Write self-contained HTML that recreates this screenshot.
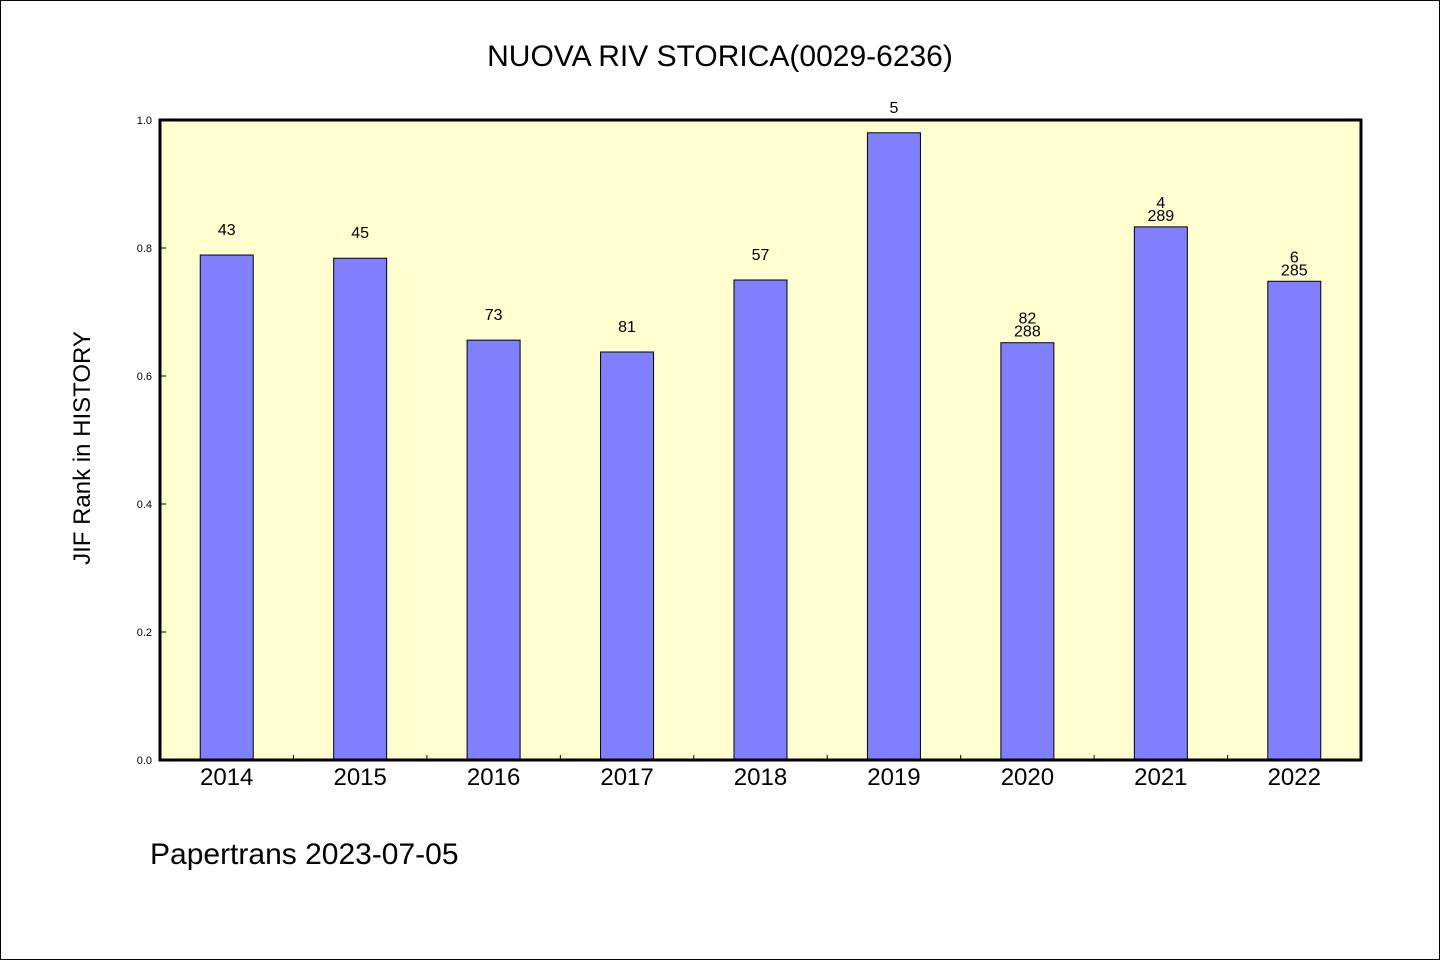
<!DOCTYPE html>
<html><head><meta charset="utf-8"><style>
body{margin:0;background:#fff}
svg text{font-family:"WenQuanYi Zen Hei","Liberation Sans",sans-serif}
</style></head><body>
<svg width="1440" height="960">
<rect x="0.5" y="0.5" width="1439" height="959" fill="#fff" stroke="#000"/>
<text x="720" y="66" font-size="30" text-anchor="middle">NUOVA RIV STORICA(0029-6236)</text>
<rect x="160" y="120" width="1201" height="640" fill="#ffffd0"/>
<g id="bars"></g>
<rect x="160" y="120" width="1201" height="640" fill="none" stroke="#000" stroke-width="3"/>
<text transform="translate(90,448) rotate(-90)" font-size="24" text-anchor="middle">JIF Rank in HISTORY</text>
<text x="150" y="864" font-size="30">Papertrans 2023-07-05</text>
</svg>
<script>
const categories=["2014","2015","2016","2017","2018","2019","2020","2021","2022"];
const values=[0.789,0.784,0.656,0.6375,0.75,0.98,0.652,0.833,0.748];
const rankLabels=["43","45","73","81","57","5","82","4","6"];
const totalLabels=["","","","","","","288","289","285"];
const yTicks=[0,0.2,0.4,0.6,0.8,1.0];
const X0=160,W=1201,Y0=760,H=640;
const band=W/categories.length;
const xs=i=>X0+band*(i+0.5);
const ys=v=>Y0-v*H;
const g=document.getElementById('bars');
const NS="http://www.w3.org/2000/svg";
function mk(t,a){const e=document.createElementNS(NS,t);for(const k in a)e.setAttribute(k,a[k]);g.appendChild(e);return e;}
yTicks.forEach(t=>{
 const l=mk('line',{x1:X0,x2:X0+6,y1:ys(t),y2:ys(t),stroke:'#000'});
 
 
 const tx=mk('text',{x:X0-8,y:ys(t)+4,'font-size':11,'text-anchor':'end'});
 tx.textContent=t.toFixed(1);
 
 
});
categories.forEach((c,i)=>{
 const cx=xs(i),top=ys(values[i]);
 const r=mk('rect',{x:cx-26.5,y:top,width:53,height:Y0-top,fill:'#8080ff',stroke:'#000','stroke-width':1});
 
 
 if(i>0){const tk=mk('line',{x1:X0+band*i,x2:X0+band*i,y1:Y0,y2:Y0-5,stroke:'#000'});
 
 }
 const xl=mk('text',{x:cx,y:Y0+25,'font-size':24,'text-anchor':'middle'});
 xl.textContent=c;
 
 
 if(totalLabels[i]){
  const a=mk('text',{x:cx,y:top-19,'font-size':16,'text-anchor':'middle'});a.textContent=rankLabels[i];
  
  
  const b=mk('text',{x:cx,y:top-6,'font-size':16,'text-anchor':'middle'});b.textContent=totalLabels[i];
  
  
 }else{
  const a=mk('text',{x:cx,y:top-20,'font-size':16,'text-anchor':'middle'});a.textContent=rankLabels[i];
  
  
 }
});
</script>
</body></html>
